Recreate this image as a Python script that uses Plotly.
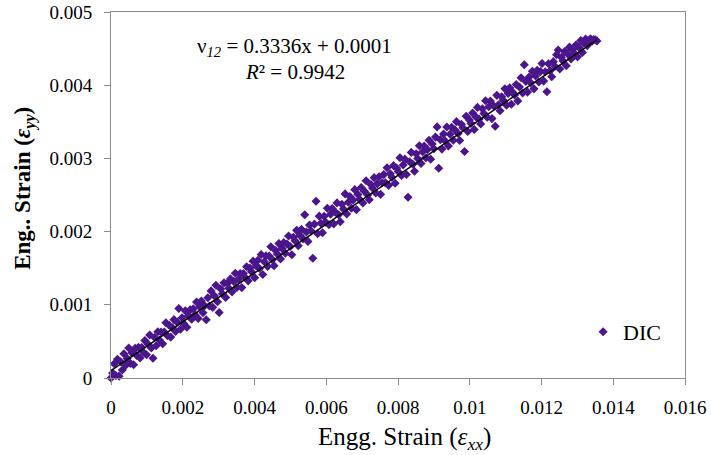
import plotly.graph_objects as go

# Engineering strains in microstrain
strain_xx_ue = [
    0, 45, 90, 135, 180, 225, 270, 315, 360, 405, 450, 495, 540, 585, 630, 675, 720, 765, 810, 855,
    900, 945, 990, 1035, 1080, 1125, 1170, 1215, 1260, 1305, 1350, 1395, 1440, 1485, 1530, 1575, 1620, 1665, 1710, 1755,
    1800, 1845, 1890, 1935, 1980, 2025, 2070, 2115, 2160, 2205, 2250, 2295, 2340, 2385, 2430, 2475, 2520, 2565, 2610, 2655,
    2700, 2745, 2790, 2835, 2880, 2925, 2970, 3015, 3060, 3105, 3150, 3195, 3240, 3285, 3330, 3375, 3420, 3465, 3510, 3555,
    3600, 3645, 3690, 3735, 3780, 3825, 3870, 3915, 3960, 4005, 4050, 4095, 4140, 4185, 4230, 4275, 4320, 4365, 4410, 4455,
    4500, 4545, 4590, 4635, 4680, 4725, 4770, 4815, 4860, 4905, 4950, 4995, 5040, 5085, 5130, 5175, 5220, 5265, 5310, 5355,
    5400, 5445, 5490, 5535, 5580, 5625, 5670, 5715, 5760, 5805, 5850, 5895, 5940, 5985, 6030, 6075, 6120, 6165, 6210, 6255,
    6300, 6345, 6390, 6435, 6480, 6525, 6570, 6615, 6660, 6705, 6750, 6795, 6840, 6885, 6930, 6975, 7020, 7065, 7110, 7155,
    7200, 7245, 7290, 7335, 7380, 7425, 7470, 7515, 7560, 7605, 7650, 7695, 7740, 7785, 7830, 7875, 7920, 7965, 8010, 8055,
    8100, 8145, 8190, 8235, 8280, 8325, 8370, 8415, 8460, 8505, 8550, 8595, 8640, 8685, 8730, 8775, 8820, 8865, 8910, 8955,
    9000, 9045, 9090, 9135, 9180, 9225, 9270, 9315, 9360, 9405, 9450, 9495, 9540, 9585, 9630, 9675, 9720, 9765, 9810, 9855,
    9900, 9945, 9990, 10035, 10080, 10125, 10170, 10215, 10260, 10305, 10350, 10395, 10440, 10485, 10530, 10575, 10620, 10665, 10710, 10755,
    10800, 10845, 10890, 10935, 10980, 11025, 11070, 11115, 11160, 11205, 11250, 11295, 11340, 11385, 11430, 11475, 11520, 11565, 11610, 11655,
    11700, 11745, 11790, 11835, 11880, 11925, 11970, 12015, 12060, 12105, 12150, 12195, 12240, 12285, 12330, 12375, 12420, 12465, 12510, 12555,
    12600, 12645, 12690, 12735, 12780, 12825, 12870, 12915, 12960, 13005, 13050, 13095, 13140, 13185, 13230, 13275, 13320, 13365, 13410, 13455,
    13500, 13545,
]
strain_yy_ue = [
    0, 67, 194, 33, 256, 25, 222, 109, 332, 171, 266, 409, 200, 343, 182, 405, 308, 419, 274, 417,
    352, 511, 318, 461, 588, 411, 270, 553, 440, 631, 518, 629, 468, 627, 754, 577, 720, 559, 686, 797,
    636, 763, 950, 665, 824, 743, 918, 693, 852, 931, 802, 945, 864, 1039, 814, 973, 1052, 891, 986, 795,
    1096, 983, 1190, 965, 1124, 1267, 1042, 895, 1216, 1151, 1300, 1101, 1292, 1227, 1354, 1177, 1320, 1431, 1238, 1349,
    1428, 1235, 1426, 1377, 1520, 1327, 1502, 1453, 1596, 1371, 1530, 1609, 1496, 1687, 1414, 1589, 1668, 1523, 1666, 1793,
    1616, 1535, 1742, 1693, 1836, 1627, 1770, 1849, 1704, 1831, 1940, 1797, 1684, 1923, 1874, 2017, 1808, 1951, 2030, 1901,
    2230, 1995, 1866, 2089, 2008, 1635, 2102, 2415, 1972, 2211, 2114, 1985, 2208, 2127, 2318, 2093, 2236, 2315, 2106, 2265,
    2392, 2231, 2134, 2373, 2308, 2515, 2242, 2401, 2480, 2319, 2430, 2573, 2300, 2507, 2442, 2601, 2392, 2551, 2694, 2501,
    2436, 2643, 2594, 2737, 2528, 2655, 2750, 2509, 2668, 2779, 2666, 2873, 2632, 2791, 2742, 2901, 2660, 2867, 2818, 3009,
    2768, 2911, 2990, 2781, 2470, 2955, 3082, 2921, 2824, 3063, 2998, 3173, 2932, 3091, 3170, 3009, 3120, 3247, 2990, 3197,
    3132, 3291, 3430, 2865, 3256, 3127, 3334, 3237, 3428, 3171, 3330, 3425, 3248, 3391, 3502, 3341, 3244, 3467, 3418, 3095,
    3576, 3367, 3526, 3477, 3620, 3395, 3570, 3697, 3536, 3471, 3678, 3613, 3788, 3563, 3706, 3785, 3544, 3719, 3440, 3861,
    3732, 3651, 3842, 3793, 3952, 3727, 3886, 3965, 3740, 3899, 3866, 4009, 3784, 3975, 4102, 3893, 4280, 4051, 3906, 4113,
    4032, 4191, 3950, 4125, 4204, 4043, 4186, 4297, 4056, 4183, 3910, 4293, 4196, 4115, 4322, 4257, 4416, 4480, 4222, 4381,
    4332, 4459, 4266, 4425, 4520, 4359, 4486, 4437, 4548, 4387, 4514, 4609, 4448, 4575, 4630, 4541, 4610, 4635, 4600, 4625,
    4620, 4605,
]

# Linear trendline shown on the chart
fit_slope = 0.3336
fit_intercept = 0.0001

x_ticks = [0, 0.002, 0.004, 0.006, 0.008, 0.01, 0.012, 0.014, 0.016]
x_tick_text = ["0", "0.002", "0.004", "0.006", "0.008", "0.01", "0.012", "0.014", "0.016"]
y_ticks = [0, 0.001, 0.002, 0.003, 0.004, 0.005]
y_tick_text = ["0", "0.001", "0.002", "0.003", "0.004", "0.005"]

strain_xx = [v * 1e-6 for v in strain_xx_ue]
strain_yy = [v * 1e-6 for v in strain_yy_ue]

x_line = [min(strain_xx), max(strain_xx)]
y_line = [fit_slope * v + fit_intercept for v in x_line]

SERIF = "Liberation Serif, Times New Roman, serif"
PURPLE = "#4B168C"
AXIS = "#8C8C8C"

fig = go.Figure()
fig.add_trace(go.Scatter(
    x=strain_xx, y=strain_yy, mode="markers", name="DIC",
    marker=dict(symbol="diamond", size=7, color=PURPLE, line=dict(width=0)),
    cliponaxis=False,
))
fig.add_trace(go.Scatter(
    x=x_line, y=y_line, mode="lines", showlegend=False,
    line=dict(color="black", width=1.5),
))

fig.update_layout(
    width=711, height=455,
    margin=dict(l=111, r=26, t=12, b=77),
    paper_bgcolor="white", plot_bgcolor="white",
    font=dict(family=SERIF, size=19, color="black"),
    showlegend=True,
    legend=dict(x=0.8225, y=0.126, xanchor="left", yanchor="middle",
                font=dict(family=SERIF, size=22, color="black"),
                bgcolor="rgba(0,0,0,0)", itemwidth=30),
    xaxis=dict(range=[0, 0.016], tickvals=x_ticks, ticktext=x_tick_text,
               showgrid=False, zeroline=False, showline=True, linecolor=AXIS,
               linewidth=1, mirror=True, ticks="outside", ticklen=6, tickcolor=AXIS,
               ticklabelstandoff=6, automargin=False,
               tickfont=dict(family=SERIF, size=19, color="black")),
    yaxis=dict(range=[0, 0.005], tickvals=y_ticks, ticktext=y_tick_text,
               showgrid=False, zeroline=False, showline=True, linecolor=AXIS,
               linewidth=1, mirror=True, ticks="outside", ticklen=6, tickcolor=AXIS,
               ticklabelstandoff=8, automargin=False,
               tickfont=dict(family=SERIF, size=19, color="black")),
    annotations=[
        dict(xref="paper", yref="paper", x=(404 - 111) / 574, y=-0.164,
             xanchor="center", yanchor="middle",
             text="Engg. Strain (<i>ε<sub>xx</sub></i>)", showarrow=False,
             font=dict(family=SERIF, size=25, color="black")),
        dict(xref="paper", yref="paper", x=-0.152, y=0.519, xanchor="center", yanchor="middle",
             text="<b>Eng.. Strain (<i>ε<sub>yy</sub></i>)</b>", showarrow=False, textangle=-90,
             font=dict(family=SERIF, size=23, color="black")),
        dict(xref="paper", yref="paper", x=(294 - 111) / 574, y=(378 - 47) / 366,
             xanchor="center", yanchor="middle",
             text="ν<sub><i>12</i></sub> = 0.3336x + 0.0001", showarrow=False,
             font=dict(family=SERIF, size=21, color="black")),
        dict(xref="paper", yref="paper", x=(295 - 111) / 574, y=(378 - 72) / 366,
             xanchor="center", yanchor="middle",
             text="<i>R</i>² = 0.9942", showarrow=False,
             font=dict(family=SERIF, size=21, color="black")),
    ],
)

fig.write_html("out.html", config={"displayModeBar": False},
               post_script="document.body.style.margin='0';document.body.style.overflow='hidden';")
